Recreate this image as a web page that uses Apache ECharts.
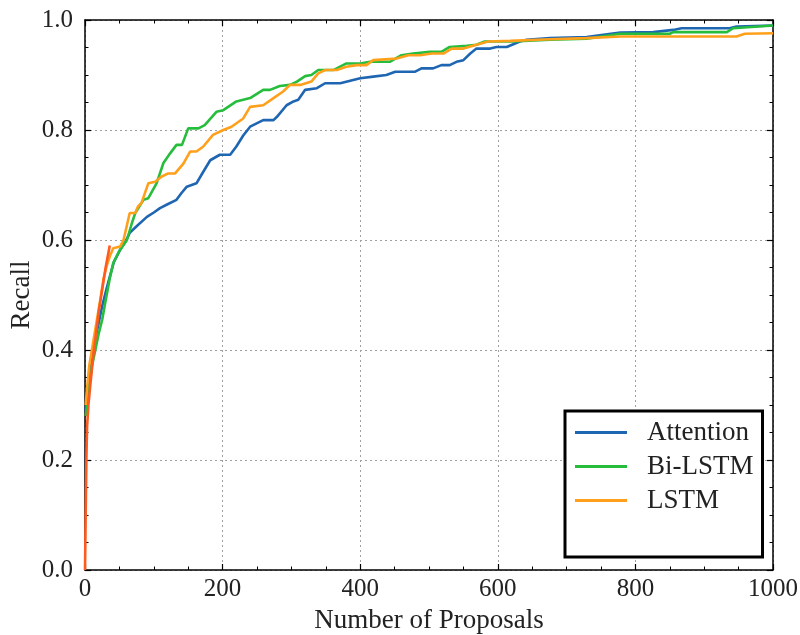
<!DOCTYPE html>
<html>
<head>
<meta charset="utf-8">
<script src="https://cdn.jsdelivr.net/npm/echarts@6/dist/echarts.min.js"></script>
<style>
html,body{margin:0;padding:0;background:#fff;}
#chart{width:800px;height:635px;}
</style>
</head>
<body>
<div id="chart"></div>
<script>
// ---- data ----
const seriesNames = ['Attention', 'Bi-LSTM', 'LSTM'];

const attentionX = [1,3,6,10,15,20,25,32,36,42,51,60,65,75,90,100,109,120,133,140,148,162,170,182,196,211,220,230,240,259,274,279,293,303,310,320,337,349,371,400,419,438,451,480,489,506,518,530,540,550,560,569,589,598,613,632,642,676,729,778,826,855,867,937,947,1000];
const attentionY = [.29,.32,.35,.38,.42,.45,.48,.515,.533,.56,.582,.60,.613,.625,.642,.65,.658,.665,.673,.685,.697,.703,.72,.745,.755,.755,.77,.79,.806,.818,.818,.824,.845,.852,.855,.873,.876,.885,.885,.894,.897,.9,.906,.906,.912,.912,.918,.918,.924,.927,.939,.948,.948,.951,.951,.961,.964,.967,.969,.977,.978,.982,.985,.985,.988,.99];

const biLstmX = [1,3,6,10,15,20,25,30,36,41,50,61,68,73,85,92,104,114,124,133,141,150,165,174,191,201,220,240,259,269,283,298,308,320,329,339,361,380,400,414,443,460,477,501,518,530,555,569,581,623,676,729,778,850,855,933,942,1000];
const biLstmY = [.28,.30,.33,.37,.40,.43,.455,.49,.53,.558,.58,.60,.63,.649,.673,.676,.703,.74,.758,.773,.773,.803,.803,.809,.833,.836,.852,.858,.873,.873,.88,.882,.888,.898,.9,.909,.909,.921,.921,.924,.924,.936,.939,.942,.942,.951,.953,.955,.961,.961,.964,.966,.975,.975,.978,.978,.985,.99];

const lstmX = [1,3,6,10,14,18,22,27,32,36,41,51,56,65,73,77,82,92,102,111,121,131,143,153,162,172,186,201,213,230,240,259,274,288,298,313,329,339,349,366,380,395,409,419,453,470,487,504,521,533,550,569,586,618,676,729,778,947,959,1000];
const lstmY = [.30,.33,.37,.40,.43,.46,.49,.53,.555,.57,.585,.588,.60,.649,.649,.661,.667,.703,.706,.715,.721,.721,.739,.761,.761,.77,.791,.80,.806,.821,.842,.845,.858,.87,.882,.882,.888,.903,.909,.909,.915,.918,.918,.927,.93,.936,.936,.939,.939,.948,.948,.955,.961,.962,.965,.967,.97,.97,.975,.976];

// unlabeled red curve visible near the origin
const redX = [0,1,2,3,5,8,12,16,20,25,30,36];
const redY = [0,0.1,0.2,0.26,0.3,0.34,0.39,0.43,0.47,0.51,0.55,0.59];

const xTicks = [0, 200, 400, 600, 800, 1000];
const yTicks = [0.0, 0.2, 0.4, 0.6, 0.8, 1.0];

// ---- chart ----
const zip = (xs, ys) => xs.map((x, i) => [x, ys[i]]);
const FONT = 'Liberation Serif';
const colors = ['#1f66b2', '#26bd3c', '#ffa01c', '#ff5a1f'];

const baseAxis = {
  axisLine: { show: true, onZero: false, lineStyle: { color: '#000', width: 1.5 } },
  axisTick: { show: true, inside: true, length: 6, lineStyle: { color: '#000', width: 1.2 } },
  minorTick: { show: true, splitNumber: 4, length: 3.5, lineStyle: { color: '#000', width: 1 } },
};

const chart = echarts.init(document.getElementById('chart'), null, { renderer: 'canvas' });
chart.setOption({
  animation: false,
  backgroundColor: '#fff',
  grid: { left: 85, right: 27, top: 20, bottom: 65, containLabel: false, outerBoundsMode: 'none' },
  legend: {
    data: seriesNames,
    orient: 'vertical',
    left: 565,
    top: 411,
    backgroundColor: '#fff',
    borderColor: '#000',
    borderWidth: 3,
    borderRadius: 0,
    padding: [8, 9, 43, 10],
    itemGap: 7,
    itemWidth: 52,
    itemHeight: 3,
    icon: 'rect',
    textStyle: { fontFamily: FONT, fontSize: 27, color: '#222', lineHeight: 27, padding: [0, 0, 0, 15] }
  },
  xAxis: [
    Object.assign({}, baseAxis, {
      type: 'value', min: xTicks[0], max: xTicks[xTicks.length - 1], interval: 200, position: 'bottom',
      name: 'Number of Proposals', nameLocation: 'middle', nameGap: 37, nameMoveOverlap: false,
      nameTextStyle: { fontFamily: FONT, fontSize: 27, color: '#222' },
      axisLabel: { fontFamily: FONT, fontSize: 25, color: '#222', margin: 7, formatter: v => String(v) },
      splitLine: { show: true, lineStyle: { color: '#a0a0a0', type: [2, 3], width: 1 } }
    }),
    Object.assign({}, baseAxis, {
      type: 'value', min: xTicks[0], max: xTicks[xTicks.length - 1], interval: 200, position: 'top',
      axisLabel: { show: false }, splitLine: { show: false }
    })
  ],
  yAxis: [
    Object.assign({}, baseAxis, {
      type: 'value', min: yTicks[0], max: yTicks[yTicks.length - 1], interval: 0.2, position: 'left',
      name: 'Recall', nameLocation: 'middle', nameGap: 50, nameMoveOverlap: false,
      nameTextStyle: { fontFamily: FONT, fontSize: 27, color: '#222' },
      axisLabel: { fontFamily: FONT, fontSize: 25, color: '#222', margin: 12, formatter: v => v.toFixed(1) },
      splitLine: { show: true, lineStyle: { color: '#a0a0a0', type: [2, 3], width: 1 } }
    }),
    Object.assign({}, baseAxis, {
      type: 'value', min: yTicks[0], max: yTicks[yTicks.length - 1], interval: 0.2, position: 'right',
      axisLabel: { show: false }, splitLine: { show: false }
    })
  ],
  series: [
    { name: seriesNames[0], data: zip(attentionX, attentionY), color: colors[0] },
    { name: seriesNames[1], data: zip(biLstmX, biLstmY), color: colors[1] },
    { name: seriesNames[2], data: zip(lstmX, lstmY), color: colors[2] },
    { name: 'red', data: zip(redX, redY), color: colors[3] }
  ].map(s => Object.assign({
    type: 'line', xAxisIndex: 0, yAxisIndex: 0, showSymbol: false, symbol: 'none',
    lineStyle: { width: 2.6, color: s.color }, itemStyle: { color: s.color }, z: 3
  }, s))
});
</script>
</body>
</html>
